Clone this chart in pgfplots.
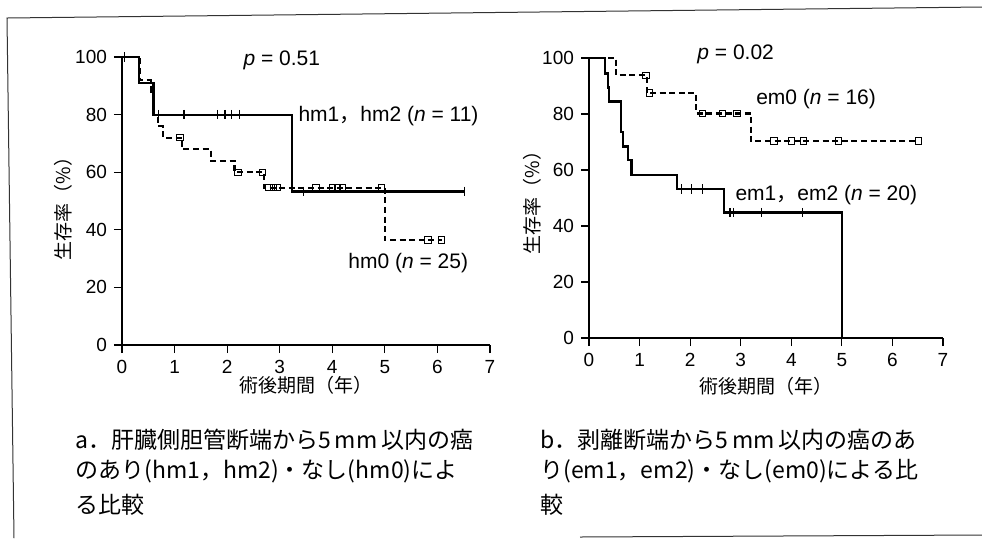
\documentclass[border=0pt]{standalone}
\usepackage{fontspec}
\setmainfont{Liberation Sans}
\newfontfamily\cjk{Noto Sans CJK JP}
\usepackage{pgfplots}
\pgfplotsset{compat=1.18}

% Kaplan-Meier panels, common look
\pgfplotsset{
  km/.style={
    scale only axis,
    xmin=0, xmax=7, ymin=0, ymax=100,
    axis lines*=left,
    tick align=outside,
    major tick length=4pt,
    xtick={0,1,...,7},
    ytick={0,20,...,100},
    axis line style={line width=0.8pt},
    tick style={line width=0.6pt, black},
    /pgf/number format/assume math mode=true,
    ticklabel style={font=\fontsize{9.5}{10}\selectfont},
    label style={font=\cjk\fontsize{9.5}{11}\selectfont},
    clip=false,
  },
  surv/.style={black, line width=1.1pt, const plot, mark=none},
  survd/.style={black, line width=1.1pt, const plot, mark=none, dash pattern=on 3pt off 1.8pt},
  cens/.style={black, only marks, mark=|, mark size=2.4pt, mark options={line width=0.6pt}},
  censd/.style={black, only marks, mark=square, mark size=1.6pt, mark options={solid, line width=0.5pt}},
}
\tikzset{note/.style={font=\fontsize{10.5}{12}\selectfont, inner sep=0pt}}

\begin{document}
\begin{tikzpicture}[x=0.5pt, y=-0.5pt]
\path[use as bounding box] (0,0) rectangle (982,538);

% scanned frame
\draw[line width=0.5pt, black!80] (14,538) -- (7,18) -- (982,7);
\draw[line width=0.5pt, black!80] (580,537) -- (982,535);

% ---- panel a ----
\begin{axis}[km,
  at={(61pt,-172.5pt)}, anchor=south west,
  width=184pt, height=144pt,
  xlabel={術後期間（年）},
  ylabel={生存率（\%）},
  xlabel style={at={(axis description cs:0.5,0)}, anchor=center, yshift=-20pt},
  ylabel style={at={(axis description cs:0,0.49)}, anchor=center, yshift=29.5pt},
]
\addplot[surv] coordinates {
  (0,100) (0.33,90.9) (0.6,80) (3.24,53.3) (6.52,53.3)
};
\addplot[cens] coordinates {
  (0.05,100) (0.69,80) (1.18,80) (1.81,80) (1.96,80) (2.08,80) (2.24,80)
  (3.45,53.3) (6.52,53.3)
};
\addplot[survd] coordinates {
  (0,100) (0.34,92) (0.55,88) (0.6,80) (0.68,76) (0.78,72) (1.14,68)
  (1.69,64) (2.14,60) (2.7,54.6) (5.0,36.4) (6.08,36.4)
};
\addplot[censd] coordinates {
  (1.1,72) (2.21,60) (2.67,60) (2.8,54.6) (2.88,54.6) (2.96,54.6)
  (3.69,54.6) (4.0,54.6) (4.1,54.6) (4.2,54.6) (4.94,54.6)
  (5.82,36.4) (6.08,36.4)
};
\node[note] at (axis cs:3.04,99) {\textit{p}\;=\;0.51};
\node[note, anchor=west] at (axis cs:3.35,79.5) {hm1{\cjk ，}hm2 (\textit{n}\;=\;11)};
\node[note, anchor=west] at (axis cs:4.3,28.5) {hm0 (\textit{n}\;=\;25)};
\end{axis}

% ---- panel b ----
\begin{axis}[km,
  at={(294.5pt,-169pt)}, anchor=south west,
  width=177pt, height=140pt,
  xlabel={術後期間（年）},
  ylabel={生存率（\%）},
  xlabel style={at={(axis description cs:0.5,0)}, anchor=center, yshift=-24pt},
  ylabel style={at={(axis description cs:0,0.5)}, anchor=center, yshift=28.5pt},
]
\addplot[surv] coordinates {
  (0,100) (0.32,94.5) (0.38,89.5) (0.4,84.5) (0.64,73.7) (0.68,68.4)
  (0.77,63.5) (0.84,58.2) (1.74,53.2) (2.67,44.8) (5.01,0)
};
\addplot[cens] coordinates {
  (1.83,53.2) (2.03,53.2) (2.24,53.2)
  (2.79,44.8) (2.85,44.8) (3.41,44.8) (4.22,44.8)
};
\addplot[survd] coordinates {
  (0,100) (0.54,93.8) (1.14,87.5) (2.12,80.2) (3.2,70.3) (6.51,70.3)
};
\addplot[censd] coordinates {
  (1.13,93.8) (1.2,87.5) (2.24,80.2) (2.64,80.2) (2.93,80.2)
  (3.66,70.3) (4.0,70.3) (4.24,70.3) (4.93,70.3) (6.51,70.3)
};
\node[note] at (axis cs:2.9,101.4) {\textit{p}\;=\;0.02};
\node[note, anchor=west] at (axis cs:3.3,85.4) {em0 (\textit{n}\;=\;16)};
\node[note, anchor=west] at (axis cs:2.89,51) {em1{\cjk ，}em2 (\textit{n}\;=\;20)};
\end{axis}

% captions
\begin{scope}[every node/.style={anchor=west, inner sep=0pt, font=\cjk\fontsize{11.5}{13}\selectfont}]
\node at (75,440) {a．肝臓側胆管断端から5\,mm\,以内の癌};
\node at (75,471) {のあり(hm1，hm2)・なし(hm0)によ};
\node at (75,505) {る比較};
\node at (540,440) {b．剥離断端から5\,mm\,以内の癌のあ};
\node at (540,471) {り(em1，em2)・なし(em0)による比};
\node at (540,505) {較};
\end{scope}
\end{tikzpicture}
\end{document}
